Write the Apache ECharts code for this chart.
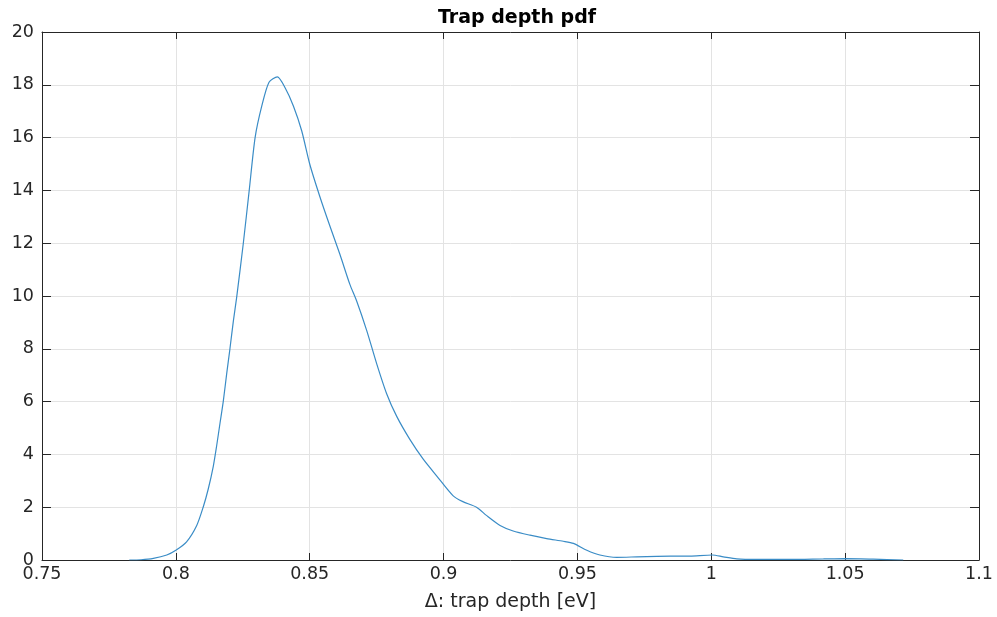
<!DOCTYPE html>
<html>
<head>
<meta charset="utf-8">
<title>Trap depth pdf</title>
<script src="https://cdn.jsdelivr.net/npm/echarts@6/dist/echarts.min.js"></script>
<style>
  html, body { margin: 0; padding: 0; background: #fff; }
  #main { width: 997px; height: 617px; }
</style>
</head>
<body>
<div id="main"></div>
<script>
// trap depth values [eV]
const depth = [0.7826, 0.787, 0.7916, 0.7966, 0.8, 0.804, 0.8078, 0.8102, 0.8121, 0.814,
  0.8152, 0.8165, 0.8177, 0.819, 0.8202, 0.8215, 0.8227, 0.8252, 0.8274, 0.8296,
  0.8321, 0.8348, 0.8379, 0.8408, 0.8439, 0.847, 0.85, 0.8538, 0.8576, 0.8613,
  0.865, 0.8675, 0.8713, 0.875, 0.8787, 0.8825, 0.8874, 0.8924, 0.8974, 0.9035,
  0.9072, 0.9123, 0.916, 0.9211, 0.926, 0.9323, 0.9385, 0.9447, 0.9485, 0.9535,
  0.9584, 0.9647, 0.9722, 0.9796, 0.9921, 1.0004, 1.0045, 1.0095, 1.017, 1.0294,
  1.0419, 1.05, 1.0605, 1.0717];
// pdf values
const pdf = [0, 0.01, 0.06, 0.19, 0.37, 0.69, 1.31, 2.0, 2.69, 3.56,
  4.3, 5.19, 6.0, 7.07, 8.0, 9.07, 9.94, 12.0, 14.0, 16.0,
  17.2, 18.1, 18.3, 17.89, 17.2, 16.26, 15.0, 13.76, 12.63, 11.57,
  10.44, 9.82, 8.69, 7.44, 6.31, 5.44, 4.57, 3.82, 3.19, 2.44,
  2.21, 2.0, 1.69, 1.31, 1.10, 0.94, 0.81, 0.71, 0.63, 0.37,
  0.19, 0.10, 0.12, 0.14, 0.15, 0.19, 0.12, 0.04, 0.02, 0.02,
  0.04, 0.05, 0.03, 0];
const xTicks = [0.75, 0.8, 0.85, 0.9, 0.95, 1, 1.05, 1.1];
const yTicks = [0, 2, 4, 6, 8, 10, 12, 14, 16, 18, 20];

const font = 'DejaVu Sans';
const axisCol = '#262626';

var chart = echarts.init(document.getElementById('main'), null, { renderer: 'canvas' });

var pts = [];
for (var i = 0; i < depth.length; i++) {
  pts.push([depth[i], pdf[i]]);
}

var xBase = {
  type: 'value',
  min: xTicks[0],
  max: xTicks[xTicks.length - 1],
  interval: 0.05,
  axisLine: { show: true, onZero: false, lineStyle: { color: axisCol, width: 1 } },
  axisTick: { show: true, inside: true, length: 7, lineStyle: { color: axisCol } },
};
var yBase = {
  type: 'value',
  min: yTicks[0],
  max: yTicks[yTicks.length - 1],
  interval: 2,
  axisLine: { show: true, onZero: false, lineStyle: { color: axisCol, width: 1 } },
  axisTick: { show: true, inside: true, length: 9, lineStyle: { color: axisCol } },
};

var option = {
  backgroundColor: '#fff',
  animation: false,
  title: {
    text: 'Trap depth pdf',
    left: 512,
    textAlign: 'center',
    top: 4,
    textStyle: { fontFamily: font, fontSize: 19, fontWeight: 'bold', color: '#000' }
  },
  grid: { left: 42, right: 18, top: 32, bottom: 52 },
  xAxis: [
    Object.assign({}, xBase, {
      position: 'bottom',
      name: 'Δ: trap depth [eV]',
      nameLocation: 'middle',
      nameGap: 33,
      nameTextStyle: { fontFamily: font, fontSize: 19, color: '#262626' },
      axisLabel: { fontFamily: font, fontSize: 17.5, color: '#262626', margin: 5 },
      splitLine: { show: true, lineStyle: { color: '#e3e3e3', width: 1 } }
    }),
    Object.assign({}, xBase, {
      position: 'top',
      axisLabel: { show: false },
      splitLine: { show: false }
    })
  ],
  yAxis: [
    Object.assign({}, yBase, {
      position: 'left',
      axisLabel: { fontFamily: font, fontSize: 17.5, color: '#262626', margin: 8 },
      splitLine: { show: true, lineStyle: { color: '#e3e3e3', width: 1 } }
    }),
    Object.assign({}, yBase, {
      position: 'right',
      axisLabel: { show: false },
      splitLine: { show: false }
    })
  ],
  series: [{
    type: 'line',
    xAxisIndex: 0,
    yAxisIndex: 0,
    data: pts,
    showSymbol: false,
    smooth: 0.25,
    lineStyle: { color: '#3a8cc6', width: 1.2 }
  }]
};

chart.setOption(option);
</script>
</body>
</html>
